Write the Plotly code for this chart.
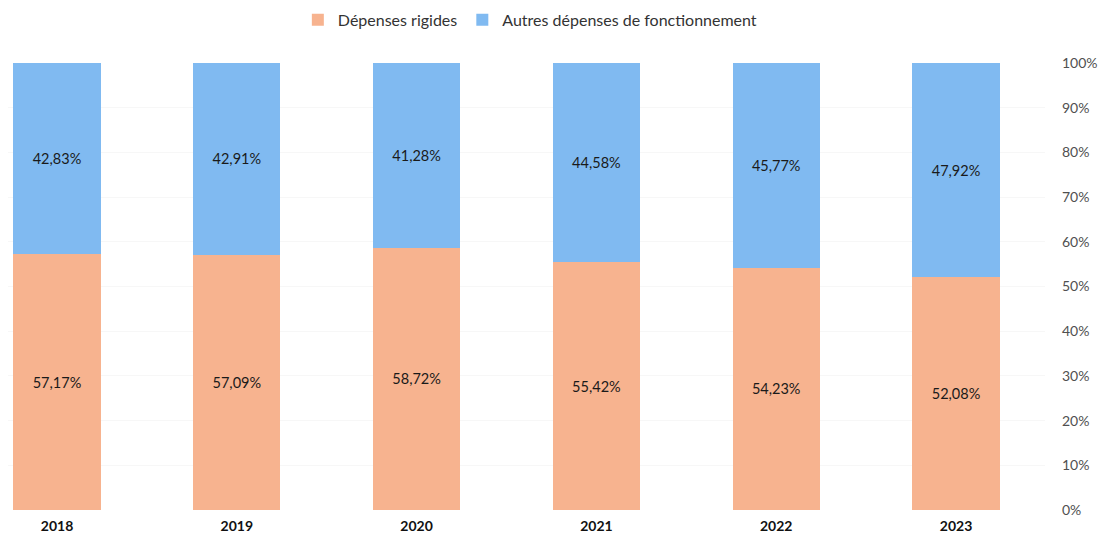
import plotly.graph_objects as go

years = ["2018", "2019", "2020", "2021", "2022", "2023"]
rigides = [57.17, 57.09, 58.72, 55.42, 54.23, 52.08]
autres = [42.83, 42.91, 41.28, 44.58, 45.77, 47.92]

def fmt(v):
    return f"{v:.2f}".replace(".", ",") + "%"

xpos = list(range(len(years)))
font_fam = "Lato, 'Open Sans', sans-serif"

fig = go.Figure()
fig.add_trace(go.Bar(
    x=xpos, y=[v / 100 for v in rigides], name="Dépenses rigides",
    marker=dict(color="#F7B38F", line=dict(width=0)),
    text=[fmt(v) for v in rigides], textposition="inside", insidetextanchor="middle",
    textfont=dict(size=14.5, color="#1a1a1a", family=font_fam), width=0.485,
))
fig.add_trace(go.Bar(
    x=xpos, y=[v / 100 for v in autres], name="Autres dépenses de fonctionnement",
    marker=dict(color="#80BAF1", line=dict(width=0)),
    text=[fmt(v) for v in autres], textposition="inside", insidetextanchor="middle",
    textfont=dict(size=14.5, color="#1a1a1a", family=font_fam), width=0.485,
))

fig.update_layout(
    barmode="stack",
    width=1109, height=540,
    margin=dict(l=0, r=72, t=55, b=38, autoexpand=False),
    paper_bgcolor="white", plot_bgcolor="white",
    font=dict(family=font_fam, size=14, color="#404040"),
    legend=dict(orientation="h", xref="container", x=0.471, xanchor="center",
                yref="container", y=0.978, yanchor="middle",
                font=dict(size=16, color="#333333"), itemwidth=30, traceorder="normal"),
    showlegend=True,
)
fig.update_xaxes(
    tickvals=xpos, ticktext=[f"<b>{y}</b>" for y in years], range=[-0.2725, 5.495],
    showgrid=False, zeroline=False, showline=False, automargin=False,
    tickfont=dict(size=14, color="#111111"), ticklabelstandoff=6,
)
fig.update_yaxes(
    side="right", range=[0, 1], tickvals=[i / 10 for i in range(11)], tickformat=".0%",
    showgrid=True, gridcolor="#f7f7f7", zeroline=False, showline=False, automargin=False,
    tickfont=dict(size=14, color="#505050"), ticklabelstandoff=16,
)

fig.write_html("out.html")
